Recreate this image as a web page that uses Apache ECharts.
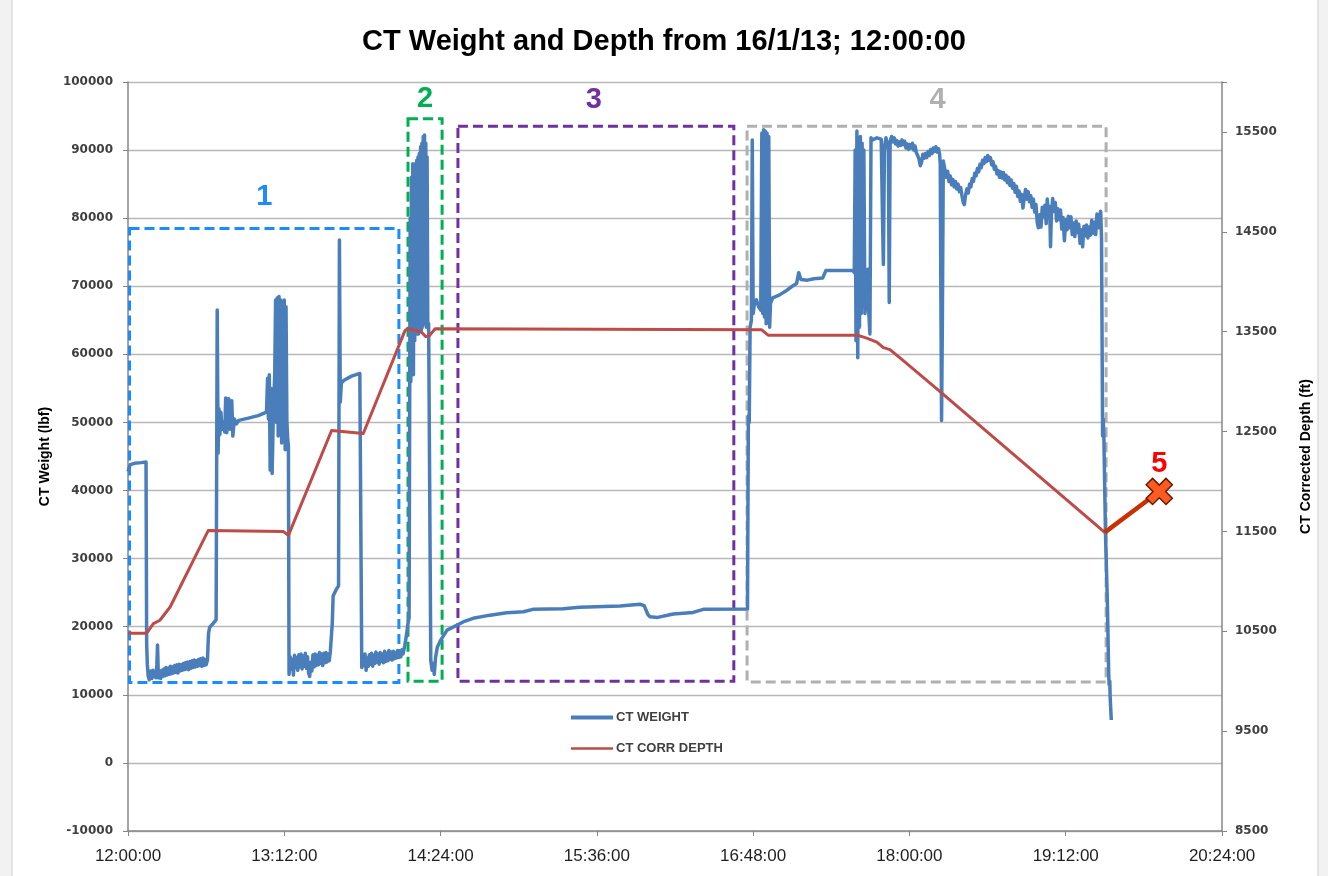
<!DOCTYPE html>
<html>
<head>
    <meta charset="utf-8">
    <title>CT Weight and Depth</title>
    <script src="https://cdn.jsdelivr.net/npm/echarts@6/dist/echarts.min.js"></script>
    <style>
        body { margin: 0; background: #f2f2f2; }
        #chart { width: 1328px; height: 876px; }
    </style>
</head>
<body>
    <div id="chart"></div>

    <script type="text/javascript">
        // time is minutes after 12:00:00
        var weight = [
            [0,42800],[1,43800],[3,44000],[6,44100],[8.3,44200],
            [8.6,17500],[8.9,14500],[9.3,12800],[9.8,12200],[10.4,13500],[11,12400],[11.5,13600],[12,12700],[12.5,13400],[12.9,12500],[13.3,14500],
            [13.6,17300],[14,12500],[14.5,13300],[15,12400],[15.5,13600],[16,12700],[16.5,13800],[17,12800],[17.5,14000],[18,12900],[18.5,13900],
            [19,13000],[19.5,14200],[20,13100],[20.5,14100],[21,13200],[21.5,14300],[22,13300],[22.5,14400],[23,13200],[23.5,14500],[24,13500],
            [24.5,14400],[25,13600],[25.5,14600],[26,13700],[26.5,14700],[27,13800],[27.5,14800],[28,13700],[28.5,14900],[29,13900],[29.5,15000],
            [30,14000],[30.5,15100],[31,14100],[31.5,15000],[32,14200],[32.5,15200],[33,14300],[33.5,15300],[34,14200],[34.5,15400],[35,14300],
            [35.5,15200],[36,14400],[36.6,15100],
            [37.1,19000],[37.6,19900],[39,20400],[40.6,21000],
            [41.1,66500],[41.5,45500],[41.9,52000],[42.3,48200],[42.8,51500],[43.3,49000],[44,50000],[44.6,48600],[45,53600],[45.5,48500],[46,51000],
            [46.4,53500],[47,49000],[47.8,53200],[48.3,48000],[49,50500],[50,49800],[51,50300],[55,50600],[60,51000],[63.8,51500],
            [64.3,56500],[64.7,50500],[65.1,57000],[65.5,43000],[66,55000],[66.4,42500],[67,52000],[67.6,57000],[68,68000],[68.4,50000],[68.8,68300],
            [69.2,48000],[69.6,68500],[70,52000],[70.4,68000],[70.8,47000],[71.2,67500],[71.6,49000],[72,68000],[72.4,46000],[72.8,67000],[73.2,50000],
            [73.6,47500],[73.9,46500],
            [74.2,13000],[74.7,15600],[75.2,13800],[75.7,15200],[76.2,12900],[76.7,15800],[77.2,14000],[77.7,15500],[78.2,13600],[78.7,15900],
            [79.2,14100],[79.7,16000],[80.2,13800],[80.7,15700],[81.2,14200],[81.7,16100],[82.2,13900],[82.7,15600],[83.2,13200],[83.7,12700],
            [84.2,14800],[84.7,13500],[85.2,15900],[85.7,14100],[86.2,16000],[86.7,14300],[87.2,15800],[87.7,14400],[88.2,16200],[88.7,14600],
            [89.2,16000],[89.7,14300],[90.2,16100],[90.7,14700],[91.2,16200],[91.7,14800],[92.2,16000],[92.7,15000],[93.2,16300],[93.8,16500],
            [94.1,20500],[94.5,24500],[96,25500],[97,26000],
            [97.4,76800],[97.8,53000],[98.3,55800],[99.5,56200],[103,56800],[106.8,57200],[107.3,57000],
            [107.7,14000],[108.2,15800],[108.7,14300],[109.2,16000],[109.7,13600],[110.2,15400],[110.7,14200],[111.2,15900],[111.7,14500],
            [112.2,16100],[112.7,14200],[113.2,15800],[113.7,14600],[114.2,16300],[114.7,14800],[115.2,16000],[115.7,14500],[116.2,16200],
            [116.7,14900],[117.2,16000],[117.7,14700],[118.2,16400],[118.7,14900],[119.2,16100],[119.7,15000],[120.2,16500],[120.7,15200],
            [121.2,16300],[121.7,15100],[122.2,16400],[122.7,15300],[123.2,16200],[123.7,15400],[124.2,16500],[124.7,15500],[125.2,16300],
            [125.7,15600],[126.2,16600],[126.7,16000],[127.5,17200],[128.3,18800],[129,20500],[129.5,21300],
            [129.8,56000],[130,80000],[130.3,56000],[130.6,86000],[130.9,60000],[131.2,88000],[131.5,57000],[131.8,87000],[132.1,62000],[132.4,88000],
            [132.7,63000],[133,88500],[133.3,64000],[133.6,89000],[133.9,63000],[134.2,89500],[134.5,64000],[134.8,90500],[135.1,63500],[135.4,91000],
            [135.7,64000],[136,92000],[136.3,64500],[136.6,92200],[136.9,65000],[137.2,91000],[137.5,64000],[137.8,89000],[138.1,64000],[138.5,64500],
            [139.5,15000],[140.1,13600],[140.6,14600],[141.1,13000],[141.7,15500],[142.5,17000],[144,18000],[147,19500],[151.4,20200],[155,20800],
            [159,21240],[166.8,21700],[174.5,22050],[182.2,22200],[186.5,22550],[200.5,22650],[208.2,22850],[226.7,23050],[235.9,23300],[237.8,23100],
            [239.5,21800],[240.5,21450],[244,21370],[251.2,21870],[260.4,22100],[265,22550],[285.4,22600],
            [285.8,51000],[286.2,50000],[286.6,64000],[287.2,65000],[287.6,91500],[288,66000],[288.6,67500],[289.5,68000],[290.5,67000],[291.5,66500],
            [292,92500],[292.4,66000],[292.8,93000],[293.2,65500],[293.6,92800],[294,64500],[294.4,92500],[294.8,65000],[295.2,92000],[295.6,64000],
            [296,67500],[297,68300],[300,68700],[303,69300],[306,70000],[308,70400],[309,72000],[310,71000],[313,70900],[316,71100],[320,71200],
            [321.5,72300],[334,72300],[334.6,72000],
            [335,90000],[335.4,62000],[335.8,92800],[336.2,59500],[336.6,91500],[337,64000],[337.4,92000],[337.8,66000],[338.2,91000],[338.6,67000],
            [339,90000],[339.5,66000],[340.2,68000],[340.8,72500],[341.3,66000],[341.8,63000],[342.3,91800],[343,91500],[345,91800],[347,91600],
            [347.6,80000],[348,73200],[348.5,90500],[349.2,91800],[350.3,90000],[350.7,67600],
            [351.1,91300],[351.8,92000],[352.4,91200],[353,91800],[353.6,90900],[354.2,91400],[354.8,90600],[355.4,91200],[356,90700],[356.6,91500],
            [357.2,90800],[357.8,91300],[358.4,90300],[359,90900],[359.6,90100],[360.2,90800],[360.8,90300],[361.4,91000],[362,90000],[362.6,90600],
            [363.2,89600],[363.8,89200],[364.4,88700],[365,87700],[365.6,88200],[366.2,89400],[366.8,88800],[367.4,89500],[368,88900],[368.6,89800],
            [369.2,89200],[369.8,90100],[370.4,89500],[371,90300],[371.6,89800],[372.2,90500],[372.8,89700],[373.4,90200],[373.9,89400],
            [374.2,88000],[374.5,68000],[374.8,50300],[375.2,66000],[375.6,88400],
            [377,86000],[377.6,86900],[378.2,85400],[378.8,86200],[379.4,84900],[380,85700],[380.6,84600],[381.2,85400],[381.8,84300],[382.4,85000],
            [383,83900],[383.6,84500],[384.2,83300],[384.8,82300],[385.3,82000],[385.9,83500],[386.5,84300],[387.1,83700],[387.7,85000],[388.3,84600],
            [388.9,85800],[389.5,85400],[390.1,86600],[390.7,86200],[391.3,87300],[391.9,86800],[392.5,87900],[393.1,87400],[393.7,88500],[394.3,88000],
            [394.9,88900],[395.5,88300],[396.1,89200],[396.7,88500],[397.3,88900],[397.9,87800],[398.5,88300],[399.1,87200],[399.7,87600],[400.3,86500],
            [400.9,87000],[401.5,86000],[402.1,86800],[402.7,85900],[403.3,86700],[403.9,85600],[404.5,86300],[405.1,85200],[405.7,86000],[406.3,84800],
            [406.9,85600],[407.5,84400],[408.1,85100],[408.7,83800],[409.3,84700],[409.9,83200],[410.5,84000],[411.1,82500],[411.7,83500],[412.3,81500],
            [412.9,83000],[413.5,84200],[414.1,82800],[414.7,83900],[415.3,82400],[415.9,83300],[416.5,81600],[417.1,82800],[417.7,80900],[418.3,82000],
            [418.9,79300],[419.4,78600],[420,80500],[420.6,78700],[421.2,81600],[421.8,80200],[422.4,81900],[423,79200],[423.5,82800],[424.1,80300],
            [424.6,81700],[425,75800],[425.4,80600],[426,82900],[426.6,81000],[427.2,82300],[427.8,79600],[428.4,81400],[429,79800],[429.6,81200],
            [430.2,78400],[430.8,80100],[431.4,76700],[432,79800],[432.6,78300],[433.2,80300],[433.8,78600],[434.4,80200],[435,77600],[435.6,79300],
            [436.2,77300],[436.8,79600],[437.4,77900],[438,79100],[438.6,76300],[439.2,78300],[439.8,75800],[440.4,78800],[441,77400],[441.6,79000],
            [442.2,77100],[442.8,78700],[443.4,77500],[444,79700],[444.6,77800],[445.2,79400],[445.8,77600],[446.4,80600],[447,78600],[447.6,80100],
            [448.1,81000],[448.5,77000],
            [449,48000],[449.3,50500],[449.6,47500],[450.3,34000],[451.2,23500],[451.8,13200],[452,11500],[452.3,12000],[452.5,9500],[453,6300]
        ];

        var depth = [
            [0,10480],[8.6,10480],[11.7,10577],[14.7,10610],[19.4,10743],[24,10943],[30.1,11210],[37,11510],[71.5,11500],[73.9,11460],
            [93.8,12510],[108.4,12480],[127.6,13510],[128.8,13530],[135,13500],[137.2,13450],[138.8,13460],[141.5,13530],[291.8,13520],
            [294.9,13465],[336,13465],[340.3,13435],[345,13396],[348,13340],[351,13320],[355.8,13235],[372.5,12930],[450,11490]
        ];

        // projected end of the run (annotation 5)
        var projection = [[450,11490],[475.1,11900]];

        // annotation boxes: [start, end] in minutes and [bottom, top] in lbf
        var boxNames = ['1', '2', '3', '4'];
        var boxTimes = [[0.7, 124.8], [129, 144.7], [152, 279.1], [285.2, 450.6]];
        var boxWeights = [[11800, 78500], [12000, 94600], [12000, 93500], [11900, 93500]];
        var boxColors = ['#1a8cff', '#00b050', '#7030a0', '#b0b0b0'];
        var boxLabelGap = [15, 4, 10, 10];
        var boxLabelShift = [0, 0, -2, 11];

        function clock(v) {
            var h = 12 + Math.floor(v / 60);
            var m = Math.round(v % 60);
            return h + ':' + (m < 10 ? '0' + m : m) + ':00';
        }

        var areas = [];
        for (var i = 0; i < boxNames.length; i++) {
            areas.push([{
                name: boxNames[i],
                xAxis: boxTimes[i][0],
                yAxis: boxWeights[i][1],
                itemStyle: { color: 'rgba(0,0,0,0)', borderColor: boxColors[i], borderWidth: 3, borderType: [10, 5] },
                label: { color: boxColors[i], distance: boxLabelGap[i], offset: [boxLabelShift[i], 0] }
            }, {
                xAxis: boxTimes[i][1],
                yAxis: boxWeights[i][0]
            }]);
        }

        var axisFont = { fontFamily: 'DejaVu Sans', fontSize: 12, fontWeight: 'bold', color: '#404040' };
        var nameFont = { fontFamily: 'Liberation Sans', fontSize: 14, fontWeight: 'bold', color: '#000' };

        var myChart = echarts.init(document.getElementById('chart'));
        option = {
            animation: false,
            backgroundColor: 'transparent',
            graphic: [{
                type: 'rect', z: -10,
                shape: { x: 12, y: -2, width: 1306, height: 880 },
                style: { fill: '#ffffff', stroke: '#d0d0d0', lineWidth: 1 }
            }],
            title: {
                text: 'CT Weight and Depth from 16/1/13; 12:00:00',
                left: 'center',
                top: 22,
                textStyle: { fontFamily: 'Liberation Sans', fontSize: 29, fontWeight: 'bold', color: '#000' }
            },
            legend: {
                orient: 'vertical',
                left: 566,
                top: 706,
                itemWidth: 42,
                itemHeight: 14,
                itemGap: 18,
                symbolKeepAspect: true,
                data: [
                    { name: 'CT WEIGHT', icon: 'path://M0,0 L40,0 L40,4 L0,4 Z' },
                    { name: 'CT CORR DEPTH', icon: 'path://M0,0 L40,0 L40,2.4 L0,2.4 Z' }
                ],
                textStyle: { fontFamily: 'Liberation Sans', fontSize: 13, fontWeight: 'bold', color: '#404040', padding: [0, 0, 0, -2] }
            },
            grid: { left: 128, right: 106, top: 82, bottom: 45 },
            xAxis: {
                type: 'value',
                min: 0, max: 504, interval: 72,
                axisLine: { onZero: false, lineStyle: { color: '#868686', width: 1.5 } },
                axisTick: { length: 5, lineStyle: { color: '#868686' } },
                splitLine: { show: false },
                axisLabel: { formatter: clock, margin: 17, fontFamily: 'Liberation Sans', fontSize: 17, color: '#1f1f1f' }
            },
            yAxis: [{
                type: 'value',
                min: -10000, max: 100000, interval: 10000,
                name: 'CT Weight (lbf)',
                nameLocation: 'middle',
                nameGap: 76,
                nameTextStyle: nameFont,
                axisLine: { show: true, lineStyle: { color: '#868686', width: 1.5 } },
                axisTick: { show: true, length: 5, lineStyle: { color: '#868686' } },
                splitLine: { lineStyle: { color: '#b8b8b8', width: 1.3 } },
                axisLabel: Object.assign({ margin: 15, formatter: function (v) { return String(v); } }, axisFont)
            }, {
                type: 'value',
                min: 8500, max: 16000, interval: 1000,
                name: 'CT Corrected Depth (ft)',
                nameLocation: 'middle',
                nameGap: 77,
                nameTextStyle: nameFont,
                axisLine: { show: true, lineStyle: { color: '#868686', width: 1.5 } },
                axisTick: { show: true, length: 5, lineStyle: { color: '#868686' } },
                splitLine: { show: false },
                axisLabel: Object.assign({
                    margin: 13,
                    formatter: function (v) { return (v - 8500) % 1000 === 0 && v <= 15500 ? String(v) : ''; }
                }, axisFont)
            }],
            series: [{
                name: 'CT WEIGHT',
                type: 'line',
                yAxisIndex: 0,
                symbol: 'none',
                data: weight,
                lineStyle: { color: '#4a7ebb', width: 3.5, join: 'round' },
                itemStyle: { color: '#4a7ebb' },
                markArea: {
                    silent: true,
                    label: { show: true, position: 'top', fontFamily: 'Liberation Sans', fontSize: 29, fontWeight: 'bold' },
                    data: areas
                }
            }, {
                name: 'CT CORR DEPTH',
                type: 'line',
                yAxisIndex: 1,
                symbol: 'none',
                data: depth,
                lineStyle: { color: '#be4b48', width: 3, join: 'round' },
                itemStyle: { color: '#be4b48' }
            }, {
                name: 'projection',
                type: 'line',
                yAxisIndex: 1,
                symbol: 'none',
                silent: true,
                data: projection,
                lineStyle: { color: '#c83200', width: 4.5 }
            }, {
                name: 'end',
                type: 'scatter',
                yAxisIndex: 1,
                data: [projection[1]],
                symbol: 'path://M3.4,0 L6.6,0 L6.6,3.4 L10,3.4 L10,6.6 L6.6,6.6 L6.6,10 L3.4,10 L3.4,6.6 L0,6.6 L0,3.4 L3.4,3.4 Z',
                symbolRotate: 45,
                symbolSize: 28,
                z: 5,
                itemStyle: { color: '#ff5a1f', borderColor: '#6b1800', borderWidth: 1.5, opacity: 1 },
                label: {
                    show: true, position: 'top', distance: 0, offset: [0, 8], formatter: '5',
                    fontFamily: 'Liberation Sans', fontSize: 29, fontWeight: 'bold', color: '#ff0000'
                }
            }]
        };
        myChart.setOption(option);
    </script>
</body>
</html>
